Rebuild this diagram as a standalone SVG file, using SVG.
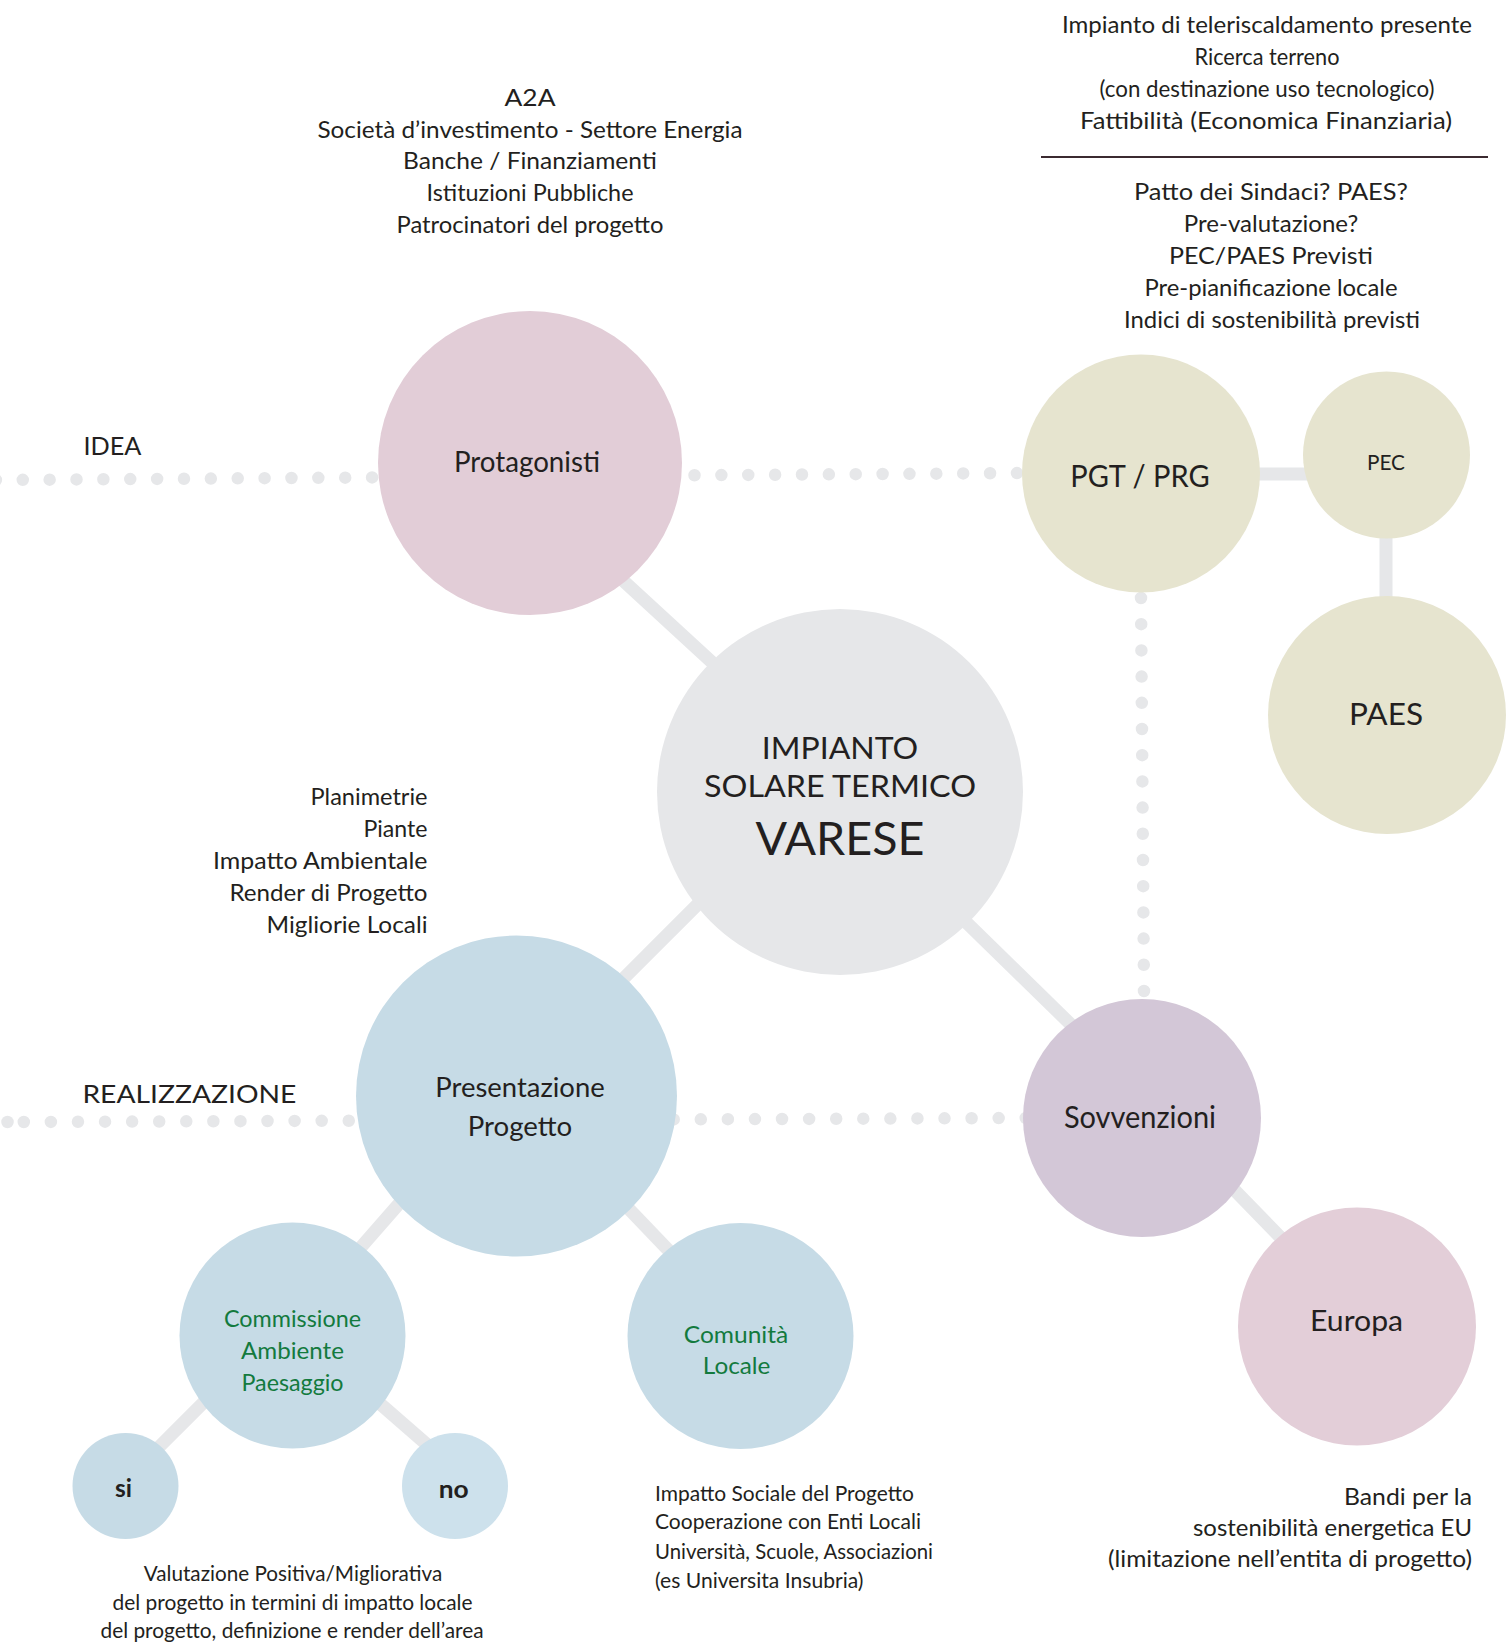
<svg xmlns="http://www.w3.org/2000/svg" width="1506" height="1642" viewBox="0 0 1506 1642">
<style>
text{font-family:Lato,"Open Sans","Liberation Sans",sans-serif;fill:#231f20;}
.t{font-size:23px;}
.m{text-anchor:middle;}
.e{text-anchor:end;}
.g{fill:#137a3e;font-size:24px;}
.b{font-weight:bold;font-size:24px;}
.lbl{font-size:25px;}
.small{font-size:22px;}
.conn{stroke:#e6e7e9;stroke-width:13;fill:none;}
.dots{stroke:#e6e7e9;stroke-width:12.5;stroke-linecap:round;fill:none;}
</style>
<rect width="1506" height="1642" fill="#ffffff"/>
<g id="connectors">
  <line class="dots" x1="-4.1" y1="480" x2="1030" y2="473" stroke-dasharray="0 26.87"/>
  <line class="dots" x1="23.8" y1="1122" x2="1030" y2="1118" stroke-dasharray="0 27.08"/>
  <circle cx="7.5" cy="1122" r="6.25" fill="#e6e7e9"/>
  <line class="dots" x1="1141" y1="598" x2="1144" y2="991" stroke-dasharray="0 26.2"/>
  <line class="conn" x1="530" y1="495" x2="840" y2="780"/>
  <line class="conn" x1="516" y1="1086" x2="840" y2="762"/>
  <line class="conn" x1="840" y1="799" x2="1142" y2="1094"/>
  <line class="conn" x1="1141" y1="474" x2="1386" y2="474"/>
  <line class="conn" x1="1386" y1="455" x2="1386" y2="715"/>
  <line class="conn" x1="1142" y1="1095" x2="1357" y2="1316"/>
  <line class="conn" x1="516" y1="1070" x2="292" y2="1326"/>
  <line class="conn" x1="516" y1="1091" x2="740" y2="1325"/>
  <line class="conn" x1="292" y1="1314" x2="125" y2="1481"/>
  <line class="conn" x1="292" y1="1327" x2="455" y2="1469"/>
</g>
<g id="protagonisti">
  <circle cx="530" cy="463" r="152" fill="#e2cdd7"/>
  <text class="m" x="527" y="472" font-size="28" textLength="146" lengthAdjust="spacingAndGlyphs">Protagonisti</text>
</g>
<g id="impianto">
  <circle cx="840" cy="792" r="183" fill="#e6e7e9"/>
  <text class="m" x="840" y="758.5" font-size="31" textLength="156.5" lengthAdjust="spacingAndGlyphs">IMPIANTO</text>
  <text class="m" x="840" y="796.5" font-size="31" textLength="272" lengthAdjust="spacingAndGlyphs">SOLARE TERMICO</text>
  <text class="m" x="840" y="854.5" font-size="46" textLength="169" lengthAdjust="spacingAndGlyphs">VARESE</text>
</g>
<g id="pgt">
  <circle cx="1141" cy="473.5" r="119" fill="#e6e4cf"/>
  <text class="m" x="1140" y="487" font-size="31" textLength="139.5" lengthAdjust="spacingAndGlyphs">PGT / PRG</text>
</g>
<g id="pec">
  <circle cx="1386.5" cy="455" r="83.5" fill="#e6e4cf"/>
  <text class="m" x="1386" y="470" font-size="21" textLength="38" lengthAdjust="spacingAndGlyphs">PEC</text>
</g>
<g id="paes">
  <circle cx="1387" cy="715" r="119" fill="#e6e4cf"/>
  <text class="m" x="1386" y="725" font-size="30" textLength="74" lengthAdjust="spacingAndGlyphs">PAES</text>
</g>
<g id="sovvenzioni">
  <circle cx="1142" cy="1118" r="119" fill="#d3c7d7"/>
  <text class="m" x="1140" y="1128" font-size="30" textLength="152" lengthAdjust="spacingAndGlyphs">Sovvenzioni</text>
</g>
<g id="europa">
  <circle cx="1357" cy="1326.5" r="119" fill="#e3ced8"/>
  <text class="m" x="1356.6" y="1331" font-size="29" textLength="93" lengthAdjust="spacingAndGlyphs">Europa</text>
</g>
<g id="presentazione">
  <circle cx="516.5" cy="1096" r="160.5" fill="#c6dbe6"/>
  <text class="m" x="520" y="1097" font-size="27" textLength="169.5" lengthAdjust="spacingAndGlyphs">Presentazione</text>
  <text class="m" x="520" y="1136" font-size="27" textLength="104.5" lengthAdjust="spacingAndGlyphs">Progetto</text>
</g>
<g id="commissione">
  <circle cx="292.5" cy="1335.5" r="113" fill="#c6dbe6"/>
  <text class="m g" x="292.5" y="1327" textLength="137" lengthAdjust="spacingAndGlyphs">Commissione</text>
  <text class="m g" x="292.5" y="1359" textLength="103" lengthAdjust="spacingAndGlyphs">Ambiente</text>
  <text class="m g" x="292.5" y="1390.5" textLength="102" lengthAdjust="spacingAndGlyphs">Paesaggio</text>
</g>
<g id="comunita">
  <circle cx="740.5" cy="1336" r="113" fill="#c6dbe6"/>
  <text class="m g" x="736" y="1342.5" textLength="104.5" lengthAdjust="spacingAndGlyphs">Comunità</text>
  <text class="m g" x="736.6" y="1374" textLength="67.6" lengthAdjust="spacingAndGlyphs">Locale</text>
</g>
<g id="si">
  <circle cx="125.5" cy="1486" r="53" fill="#c6dbe6"/>
  <text class="m b" x="123.5" y="1496.6" textLength="17" lengthAdjust="spacingAndGlyphs">si</text>
</g>
<g id="no">
  <circle cx="455" cy="1486" r="53" fill="#cde1ec"/>
  <text class="m b" x="453.7" y="1498" textLength="30" lengthAdjust="spacingAndGlyphs">no</text>
</g>
<g id="labels">
  <text class="lbl" x="83.4" y="454.5" textLength="58" lengthAdjust="spacingAndGlyphs">IDEA</text>
  <text class="lbl" x="82.4" y="1103" textLength="214" lengthAdjust="spacingAndGlyphs">REALIZZAZIONE</text>
</g>
<g id="note-protagonisti">
  <text class="t m" x="530" y="106" textLength="51" lengthAdjust="spacingAndGlyphs">A2A</text>
  <text class="t m" x="530" y="137.5" textLength="425" lengthAdjust="spacingAndGlyphs">Società d’investimento - Settore Energia</text>
  <text class="t m" x="530" y="169" textLength="254" lengthAdjust="spacingAndGlyphs">Banche / Finanziamenti</text>
  <text class="t m" x="530" y="201" textLength="207" lengthAdjust="spacingAndGlyphs">Istituzioni Pubbliche</text>
  <text class="t m" x="530" y="233" textLength="267" lengthAdjust="spacingAndGlyphs">Patrocinatori del progetto</text>
</g>
<g id="note-pgt">
  <text class="t m" x="1267" y="33" textLength="410" lengthAdjust="spacingAndGlyphs">Impianto di teleriscaldamento presente</text>
  <text class="t m" x="1267" y="65" textLength="145" lengthAdjust="spacingAndGlyphs">Ricerca terreno</text>
  <text class="t m" x="1267" y="97" textLength="335" lengthAdjust="spacingAndGlyphs">(con destinazione uso tecnologico)</text>
  <text class="t m" x="1266" y="129" textLength="372" lengthAdjust="spacingAndGlyphs">Fattibilità (Economica Finanziaria)</text>
  <line x1="1041" y1="157" x2="1488" y2="157" stroke="#3b2a30" stroke-width="2"/>
  <text class="t m" x="1271" y="199.6" textLength="274" lengthAdjust="spacingAndGlyphs">Patto dei Sindaci? PAES?</text>
  <text class="t m" x="1271" y="231.5" textLength="174.5" lengthAdjust="spacingAndGlyphs">Pre-valutazione?</text>
  <text class="t m" x="1271" y="263.6" textLength="204" lengthAdjust="spacingAndGlyphs">PEC/PAES Previsti</text>
  <text class="t m" x="1271" y="295.6" textLength="253" lengthAdjust="spacingAndGlyphs">Pre-pianificazione locale</text>
  <text class="t m" x="1272" y="328" textLength="296" lengthAdjust="spacingAndGlyphs">Indici di sostenibilità previsti</text>
</g>
<g id="note-presentazione">
  <text class="t e" x="427.5" y="805" textLength="117" lengthAdjust="spacingAndGlyphs">Planimetrie</text>
  <text class="t e" x="427.5" y="837" textLength="64" lengthAdjust="spacingAndGlyphs">Piante</text>
  <text class="t e" x="427.5" y="869" textLength="214.5" lengthAdjust="spacingAndGlyphs">Impatto Ambientale</text>
  <text class="t e" x="427.5" y="900.5" textLength="198" lengthAdjust="spacingAndGlyphs">Render di Progetto</text>
  <text class="t e" x="427.5" y="933" textLength="161" lengthAdjust="spacingAndGlyphs">Migliorie Locali</text>
</g>
<g id="note-commissione">
  <text class="small m" x="293" y="1581" textLength="298.5" lengthAdjust="spacingAndGlyphs">Valutazione Positiva/Migliorativa</text>
  <text class="small m" x="292.5" y="1609.5" textLength="360" lengthAdjust="spacingAndGlyphs">del progetto in termini di impatto locale</text>
  <text class="small m" x="292" y="1638" textLength="383" lengthAdjust="spacingAndGlyphs">del progetto, definizione e render dell’area</text>
</g>
<g id="note-comunita">
  <text class="small" x="655" y="1500.5" textLength="259" lengthAdjust="spacingAndGlyphs">Impatto Sociale del Progetto</text>
  <text class="small" x="655" y="1529" textLength="266" lengthAdjust="spacingAndGlyphs">Cooperazione con Enti Locali</text>
  <text class="small" x="655" y="1558.5" textLength="278" lengthAdjust="spacingAndGlyphs">Università, Scuole, Associazioni</text>
  <text class="small" x="655" y="1587.5" textLength="208.5" lengthAdjust="spacingAndGlyphs">(es Universita Insubria)</text>
</g>
<g id="note-europa">
  <text class="t e" x="1472" y="1504.5" textLength="128" lengthAdjust="spacingAndGlyphs">Bandi per la</text>
  <text class="t e" x="1472" y="1535.5" textLength="279" lengthAdjust="spacingAndGlyphs">sostenibilità energetica EU</text>
  <text class="t e" x="1472" y="1566.5" textLength="364" lengthAdjust="spacingAndGlyphs">(limitazione nell’entita di progetto)</text>
</g>
</svg>
